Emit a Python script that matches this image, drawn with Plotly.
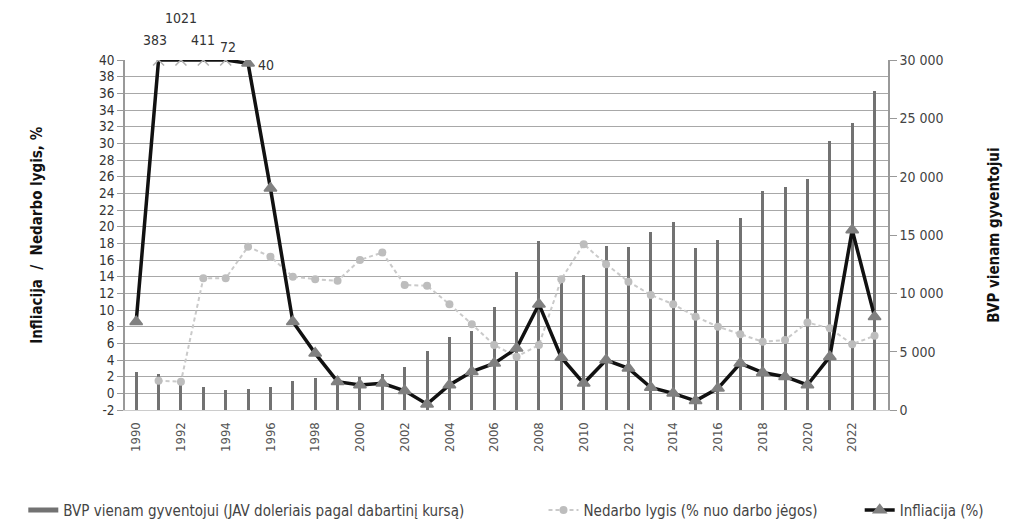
import plotly.graph_objects as go

years = list(range(1990, 2024))

# BVP vienam gyventojui, USD (right axis)
gdp = [3300, 3100, 2300, 1970, 1680, 1770, 1970, 2450, 2730, 2900,
       2820, 3100, 3680, 5100, 6240, 6810, 8800, 11850, 14500, 10940,
       11560, 14020, 13930, 15300, 16130, 13850, 14590, 16500, 18770, 19150,
       19770, 23020, 24620, 27320]

# Nedarbo lygis, % (left axis)
unemployment = [None, 1.5, 1.4, 13.8, 13.8, 17.6, 16.4, 14.0, 13.7, 13.5,
                16.0, 16.9, 13.0, 12.9, 10.7, 8.3, 5.8, 4.4, 5.8, 13.7,
                17.9, 15.5, 13.4, 11.8, 10.7, 9.2, 8.0, 7.1, 6.2, 6.4,
                8.5, 7.8, 5.9, 6.9]

# Infliacija, % (left axis, cut at 40)
inflation = [8.6, 383, 1021, 411, 72, 39.6, 24.6, 8.6, 4.8, 1.4,
             1.0, 1.2, 0.3, -1.3, 1.0, 2.6, 3.6, 5.4, 10.7, 4.3,
             1.2, 4.0, 3.0, 0.7, 0.0, -0.9, 0.6, 3.6, 2.5, 2.0,
             1.0, 4.4, 19.6, 9.2]

left_ticks = list(range(-2, 41, 2))

cap = 40
shown = [min(v, cap) for v in inflation]
symbols = ["x-thin" if v > cap else "triangle-up" for v in inflation]
mcolors = ["#b0b0b0" if v > cap else "#808080" for v in inflation]

FONT = "DejaVu Sans Condensed, Liberation Sans Narrow, sans-serif"

fig = go.Figure()

fig.add_bar(
    x=years, y=gdp, yaxis="y", width=0.13,
    marker=dict(color="#727272", line=dict(width=0)),
    name="BVP vienam gyventojui (JAV doleriais pagal dabartinį kursą)",
    showlegend=False,
)
# legend stand-in for the bars (drawn as a thick line in the original)
fig.add_scatter(
    x=[None], y=[None], mode="lines", yaxis="y",
    line=dict(color="#727272", width=5),
    name="BVP vienam gyventojui (JAV doleriais pagal dabartinį kursą)",
    legend="legend",
)
fig.add_scatter(
    x=years, y=unemployment, yaxis="y2", mode="lines+markers",
    line=dict(color="#cacaca", width=2, dash="4px,3px"),
    marker=dict(symbol="circle", size=8, color="#bdbdbd"),
    name="Nedarbo lygis (% nuo darbo jėgos)",
    legend="legend2",
)
fig.add_scatter(
    x=years, y=shown, yaxis="y2", mode="lines+markers",
    line=dict(color="#111111", width=3.5),
    marker=dict(symbol=symbols, size=11, color=mcolors,
                line=dict(color=mcolors, width=1.5)),
    name="Infliacija (%)",
    legend="legend3",
)

# labels for the values above the cap
offsets = {1991: (-4, 20), 1992: (0, 42), 1993: (0, 20), 1994: (2, 13)}
for yr, v in zip(years, inflation):
    if v > cap:
        dx, dy = offsets.get(yr, (0, 20))
        fig.add_annotation(x=yr, y=cap, yref="y2", text=str(v), showarrow=False,
                           xshift=dx, yshift=dy,
                           font=dict(family=FONT, size=14, color="#333333"))
    elif v >= 39.5:
        fig.add_annotation(x=yr, y=v, yref="y2", text=str(round(v)), showarrow=False,
                           xanchor="left", xshift=8, yshift=-2,
                           font=dict(family=FONT, size=14, color="#333333"))

legend_style = dict(
    orientation="h", xref="container", yref="container",
    xanchor="left", yanchor="middle", y=0.045,
    font=dict(family=FONT, size=15, color="#444444"),
    itemwidth=30, bgcolor="rgba(0,0,0,0)",
)

fig.update_layout(
    width=1020, height=526,
    margin=dict(l=117, r=140, t=52, b=124),
    paper_bgcolor="white", plot_bgcolor="white",
    separators=", ",
    font=dict(family=FONT, color="#333333"),
    bargap=0,
    xaxis=dict(
        range=[1989.5, 2023.6], tickmode="array",
        tickvals=list(range(1990, 2023, 2)), tickangle=-90,
        tickfont=dict(size=13, color="#555555"),
        showgrid=False, zeroline=False,
        showline=True, linecolor="#cccccc", linewidth=1,
        ticks="", ticklabelstandoff=6,
    ),
    yaxis=dict(
        side="right", range=[0, 30000], dtick=5000, tickformat=",d",
        showgrid=False, zeroline=False,
        showline=True, linecolor="#999999", linewidth=1.5,
        ticks="outside", ticklen=7, tickcolor="#999999",
        tickfont=dict(size=14, color="#444444"),
    ),
    yaxis2=dict(
        overlaying="y", side="left", range=[-2, 40],
        tickmode="array", tickvals=left_ticks,
        ticktext=[str(t) for t in left_ticks],
        showgrid=True, gridcolor="#a8a8a8", gridwidth=1.3,
        zeroline=False,
        showline=True, linecolor="#999999", linewidth=1.5,
        ticks="outside", ticklen=6, tickcolor="#999999",
        tickfont=dict(size=13.5, color="#333333"),
    ),
    legend=dict(legend_style, x=0.015),
    legend2=dict(legend_style, x=0.525),
    legend3=dict(legend_style, x=0.835),
)

fig.add_annotation(
    x=-0.13, y=0.5, xref="paper", yref="paper", textangle=-90,
    text="Infliacija  /  Nedarbo lygis, %", showarrow=False,
    font=dict(family=FONT, size=15, color="#111111", weight="bold"),
)
fig.add_annotation(
    x=1.153, y=0.5, xref="paper", yref="paper", textangle=-90,
    text="BVP vienam gyventojui", showarrow=False,
    font=dict(family=FONT, size=15, color="#111111", weight="bold"),
)

fig.write_html("out.html")
